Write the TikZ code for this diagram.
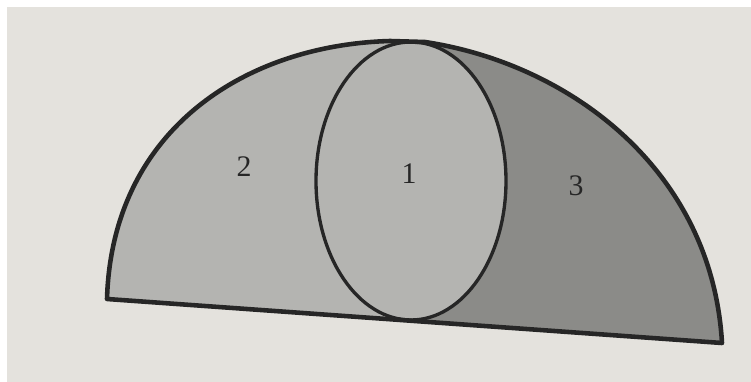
\documentclass[tikz,border=0pt]{standalone}
\usepackage{amsmath}
\usepackage{fontspec}
\setmainfont{Liberation Serif}
\usepackage{tikz}

\definecolor{paper}{HTML}{E4E2DD}
\definecolor{lightreg}{HTML}{B4B4B1}
\definecolor{darkreg}{HTML}{8B8B88}
\definecolor{ink}{HTML}{262626}

\begin{document}
\begin{tikzpicture}[x=0.02cm,y=0.02cm]
		\tikzset{outline/.style={line width=2.6pt,ink,line join=round},
			oval/.style={line width=1.9pt,ink},
			regionlabel/.style={font=\fontsize{17}{17}\selectfont,text=ink}};
		\useasboundingbox (0,0) rectangle (751,382);
		\fill[white] (0,0) rectangle (751,382);
		\fill[paper] (7,0) rectangle (751,375);
		\def\dome{(107,83) .. controls (112,252) and (245,337) .. (390,341) -- (425,340) .. controls (570,318) and (712,212) .. (722,39) -- cycle}
		\fill[lightreg] \dome;
		\begin{scope}
			\clip \dome;
			\fill[darkreg] (411,340) arc[start angle=90,end angle=-90,x radius=95,y radius=139] -- (411,-10) -- (760,-10) -- (760,400) -- (411,400) -- cycle;
		\end{scope}
		\draw[oval] (411,201) ellipse[x radius=95,y radius=139];
		\draw[outline] \dome;
		\node[regionlabel] (r1) at (409,208) {1};
		\node[regionlabel] (r2) at (244,215) {2};
		\node[regionlabel] (r3) at (576,196) {3};
	\end{tikzpicture}
\end{document}
